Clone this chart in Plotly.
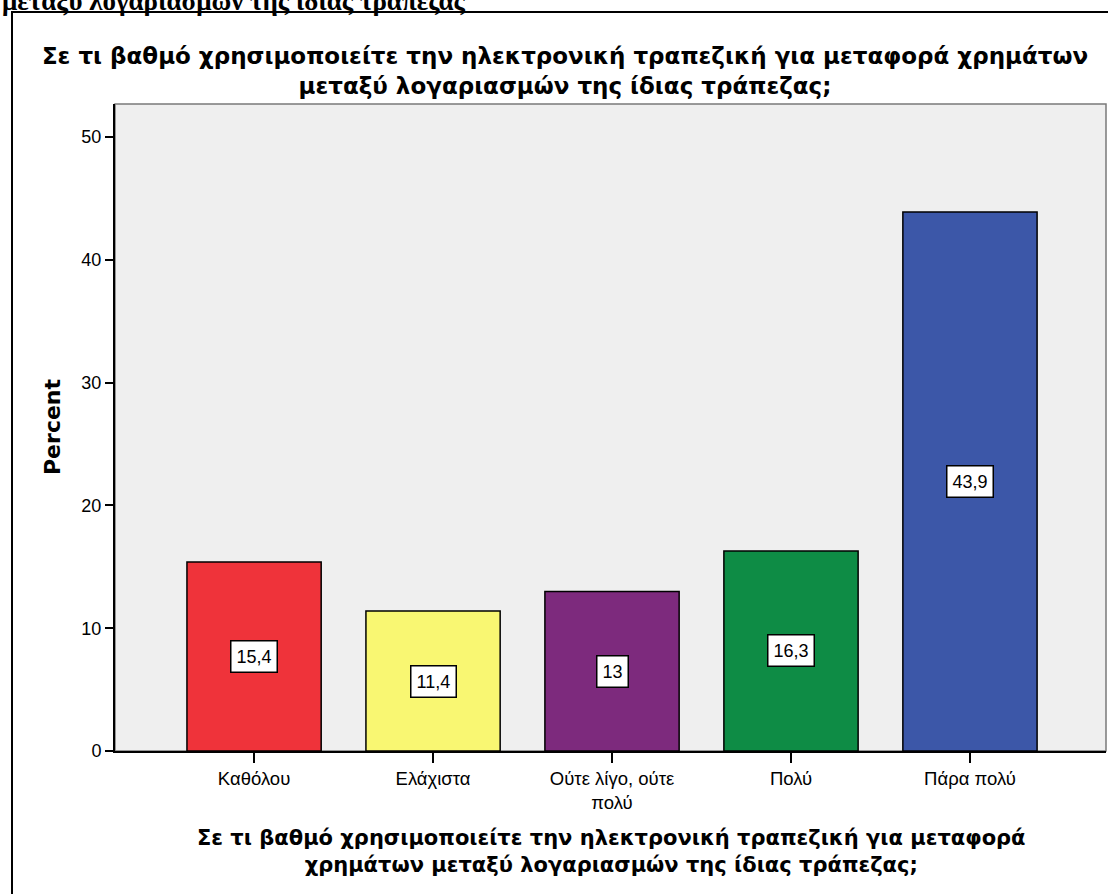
import plotly.graph_objects as go

# Survey responses: use of e-banking for transfers between own accounts
categories = ["Καθόλου", "Ελάχιστα", "Ούτε λίγο, ούτε<br>πολύ", "Πολύ", "Πάρα πολύ"]
percent = [15.4, 11.4, 13.0, 16.3, 43.9]
bar_colors = ["#EF333A", "#F9F772", "#7D2A7D", "#0E8C45", "#3C57A8"]
y_ticks = [0, 10, 20, 30, 40, 50]

title_text = ("Σε τι βαθμό χρησιμοποιείτε την ηλεκτρονική τραπεζική για μεταφορά χρημάτων<br>"
              "μεταξύ λογαριασμών της ίδιας τράπεζας;")
xtitle_text = ("Σε τι βαθμό χρησιμοποιείτε την ηλεκτρονική τραπεζική για μεταφορά<br>"
               "χρημάτων μεταξύ λογαριασμών της ίδιας τράπεζας;")
caption_text = "μεταξύ λογαριασμών της ίδιας τράπεζας"

FONT = "Liberation Sans, Arial, sans-serif"
BOLD_FONT = "DejaVu Sans, Verdana, sans-serif"

W, H = 1108, 894
L, R, T, B = 115, 2, 104, 143
pw, ph = W - L - R, H - T - B


def px_x(p):
    return (p - L) / pw


def px_y(p):
    return 1 - (p - T) / ph


def fmt(v):
    return f"{v:g}".replace(".", ",")


x_idx = list(range(len(categories)))

fig = go.Figure()
fig.add_trace(go.Bar(
    x=x_idx,
    y=percent,
    width=0.75,
    marker=dict(color=bar_colors, line=dict(color="black", width=1.5)),
    hoverinfo="skip",
))

# value labels in white boxes at mid-height of each bar
for i, v in enumerate(percent):
    fig.add_annotation(
        x=i, y=v / 2, xref="x", yref="y",
        text=fmt(v), showarrow=False,
        font=dict(family=FONT, size=18, color="black"),
        bgcolor="white", bordercolor="black", borderwidth=1.5, borderpad=5,
    )

# outer frame of the chart
fig.add_shape(type="rect", xref="paper", yref="paper",
              x0=px_x(12), x1=px_x(1125), y0=px_y(910), y1=px_y(12),
              line=dict(color="black", width=2), layer="above")
# thin grey plot-area border on top/right
fig.add_shape(type="rect", xref="paper", yref="paper",
              x0=0, x1=1, y0=0, y1=1,
              line=dict(color="#7a7a7a", width=1.5), layer="below")

# clipped caption line at the top of the page
fig.add_annotation(
    xref="paper", yref="paper", x=px_x(0), y=px_y(1),
    xanchor="left", yanchor="middle", text=f"<b>{caption_text}</b>", showarrow=False,
    font=dict(family="Liberation Serif, Times New Roman, serif", size=27, color="black"),
)

# y-axis title
fig.add_annotation(
    xref="paper", yref="paper", x=px_x(52), y=px_y(427),
    xanchor="center", yanchor="middle", textangle=-90,
    text="<b>Percent</b>", showarrow=False,
    font=dict(family=BOLD_FONT, size=22, color="black"),
)

# x-axis title
fig.add_annotation(
    xref="paper", yref="paper", x=px_x(611), y=px_y(851),
    xanchor="center", yanchor="middle",
    text=f"<b>{xtitle_text}</b>", showarrow=False,
    font=dict(family=BOLD_FONT, size=21, color="black"),
)

fig.update_layout(
    width=W, height=H,
    margin=dict(l=L, r=R, t=T, b=B),
    paper_bgcolor="white",
    plot_bgcolor="#EFEFEF",
    showlegend=False,
    title=dict(
        text=f"<b>{title_text}</b>",
        x=565 / W, xanchor="center", y=1 - 64 / H, yanchor="middle",
        font=dict(family=BOLD_FONT, size=23, color="black"),
    ),
    xaxis=dict(
        tickmode="array", tickvals=x_idx, ticktext=categories,
        range=[-0.777, 4.76],
        showline=True, linecolor="black", linewidth=2,
        ticks="outside", ticklen=10, tickwidth=2, tickcolor="black",
        tickfont=dict(family=FONT, size=18.5, color="black"),
        showgrid=False, zeroline=False, fixedrange=True,
    ),
    yaxis=dict(
        range=[0, 52.7], tickvals=y_ticks,
        showline=True, linecolor="black", linewidth=2,
        ticks="outside", ticklen=8, tickwidth=2, tickcolor="black",
        tickfont=dict(family=FONT, size=18, color="black"),
        showgrid=False, zeroline=False, fixedrange=True,
    ),
)

fig.write_html("out.html")
